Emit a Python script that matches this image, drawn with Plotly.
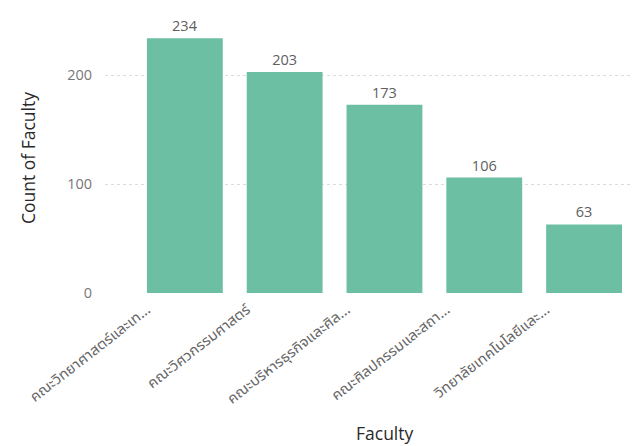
import plotly.graph_objects as go

faculties = [
    "คณะวิทยาศาสตร์และเท...",
    "คณะวิศวกรรมศาสตร์",
    "คณะบริหารธุรกิจและศิล...",
    "คณะศิลปกรรมและสถา...",
    "วิทยาลัยเทคโนโลยีและ...",
]
counts = [234, 203, 173, 106, 63]
y_ticks = [0, 100, 200]

FONT = "Open Sans, Noto Sans, sans-serif"
THAI_FONT = "Noto Sans Thai UI, Noto Sans Thai, Open Sans, sans-serif"

fig = go.Figure(
    go.Bar(
        x=list(range(len(faculties))),
        y=counts,
        marker=dict(color="#6DBFA4", line=dict(width=0)),
        text=[str(v) for v in counts],
        textposition="outside",
        cliponaxis=False,
        textfont=dict(family=FONT, size=14.5, color="#606060"),
    )
)

fig.update_layout(
    width=637,
    height=446,
    margin=dict(l=105, r=5, t=23, b=153),
    plot_bgcolor="white",
    paper_bgcolor="white",
    bargap=0.24,
    showlegend=False,
    font=dict(family=FONT),
)

fig.update_xaxes(
    automargin=False,
    tickmode="array",
    tickvals=list(range(len(faculties))),
    ticktext=faculties,
    tickangle=-38,
    ticklabelshift=-38,
    ticklabelstandoff=4,
    tickfont=dict(family=THAI_FONT, size=15, color="#666666"),
    range=[-0.8, 4.48],
    showgrid=False,
    zeroline=False,
    showline=False,
    ticks="",
)

fig.update_yaxes(
    automargin=False,
    range=[0, 248],
    tickmode="array",
    tickvals=y_ticks,
    tickfont=dict(family=FONT, size=14.5, color="#777777"),
    showgrid=True,
    gridcolor="#DDDDDD",
    griddash="dot",
    gridwidth=1,
    zeroline=False,
    showline=False,
    ticks="",
    ticklabelstandoff=12,
    title=dict(text="Count of Faculty", font=dict(family=FONT, size=17.5, color="#2A2A2A"), standoff=27),
)

fig.add_annotation(
    text="Faculty",
    xref="paper",
    yref="paper",
    x=(385 - 105) / (637 - 110),
    y=0,
    yshift=-140,
    showarrow=False,
    font=dict(family=FONT, size=17.5, color="#2A2A2A"),
    xanchor="center",
    yanchor="middle",
)

fig.write_html(
    "out.html",
    config={"displayModeBar": False},
    post_script="document.body.style.margin='0px';",
)
